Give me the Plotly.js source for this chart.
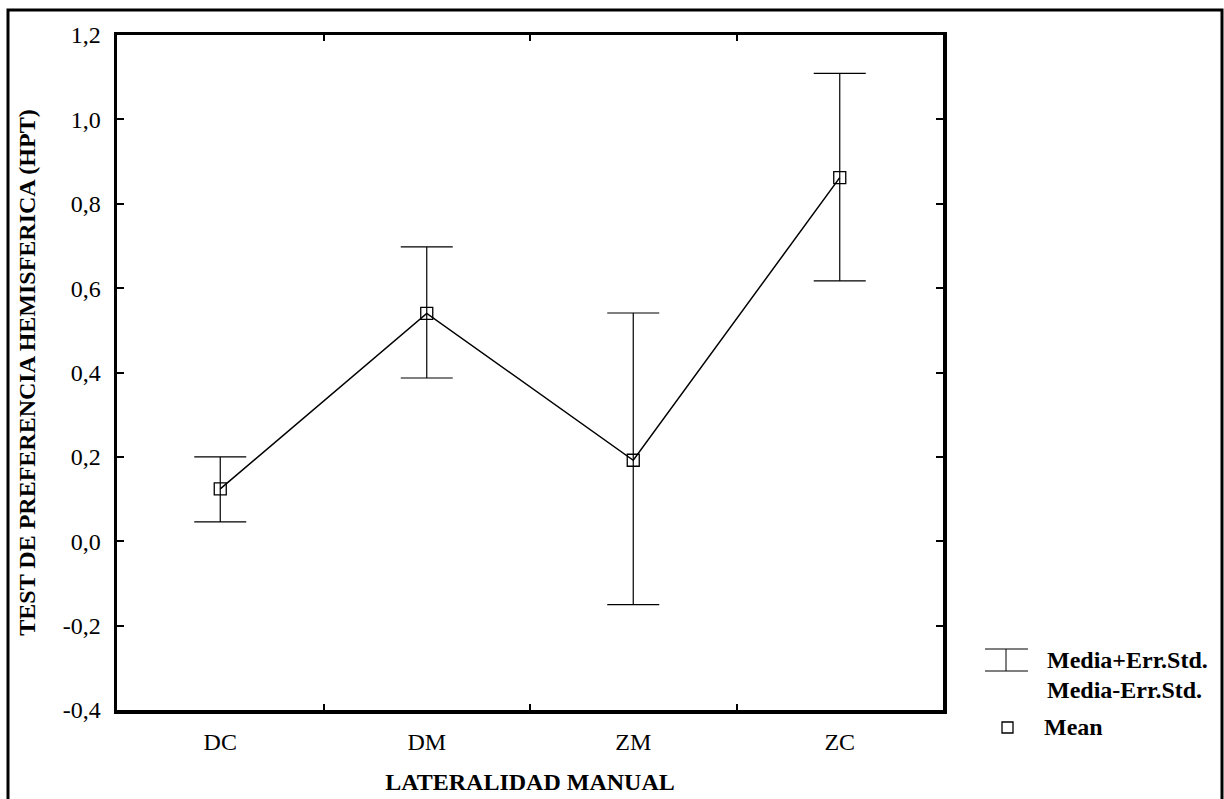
<!DOCTYPE html>
<html>
<head>
<meta charset="utf-8">
<script src="https://cdn.plot.ly/plotly-3.0.1.min.js"></script>
<style>html,body{margin:0;padding:0;background:#fff;}#chart{width:1224px;height:799px;}</style>
</head>
<body>
<div id="chart"></div>
<script>
// ---- data ----
var categories = ['DC', 'DM', 'ZM', 'ZC'];
var means      = [0.124, 0.540, 0.192, 0.862];
var upperVals  = [0.200, 0.698, 0.541, 1.109];   // Media+Err.Std.
var lowerVals  = [0.046, 0.387, -0.150, 0.617];  // Media-Err.Std.
var yTickVals  = [-0.4, -0.2, 0.0, 0.2, 0.4, 0.6, 0.8, 1.0, 1.2];
var yTickText  = ['-0,4', '-0,2', '0,0', '0,2', '0,4', '0,6', '0,8', '1,0', '1,2'];
var legendLabels = ['Media+Err.Std.', 'Media-Err.Std.', 'Mean'];
var xTitle = 'LATERALIDAD MANUAL';
var yTitle = 'TEST DE PREFERENCIA HEMISFERICA (HPT)';

// ---- layout geometry ----
var W = 1224, H = 799;
var M = {l: 117, r: 281, t: 35, b: 89};
var pw = W - M.l - M.r, ph = H - M.t - M.b;
function px(x) { return (x - M.l) / pw; }
function py(y) { return (H - M.b - y) / ph; }

var plus = means.map(function (m, i) { return upperVals[i] - m; });
var minus = means.map(function (m, i) { return m - lowerVals[i]; });

var serif = 'Liberation Serif, Times New Roman, serif';

var trace = {
  x: categories,
  y: means,
  type: 'scatter',
  mode: 'lines+markers',
  line: {color: '#000', width: 1.5},
  marker: {symbol: 'square-open', size: 12, color: '#000', line: {width: 1.3, color: '#000'}},
  error_y: {type: 'data', symmetric: false, array: plus, arrayminus: minus,
            color: '#000', thickness: 1.2, width: 26},
  showlegend: false,
  hoverinfo: 'x+y'
};

var shapes = [
  // outer frame (left, top, right)
  {type: 'path', xref: 'paper', yref: 'paper',
   path: 'M ' + px(8) + ' ' + py(820) + ' L ' + px(8) + ' ' + py(10) + ' L ' + px(1222) + ' ' + py(10) + ' L ' + px(1222) + ' ' + py(820),
   line: {color: '#000', width: 3}},
  // legend error-bar glyph
  {type: 'line', xref: 'paper', yref: 'paper', x0: px(985), x1: px(1028), y0: py(649), y1: py(649), line: {color: '#000', width: 1}},
  {type: 'line', xref: 'paper', yref: 'paper', x0: px(985), x1: px(1028), y0: py(671), y1: py(671), line: {color: '#000', width: 1}},
  {type: 'line', xref: 'paper', yref: 'paper', x0: px(1006), x1: px(1006), y0: py(649), y1: py(671), line: {color: '#000', width: 1}},
  // legend mean square
  {type: 'rect', xref: 'paper', yref: 'paper', x0: px(1002), x1: px(1013), y0: py(722), y1: py(733), line: {color: '#000', width: 1.3}}
];

var legFont = {family: serif, size: 24, color: '#000'};
var annotations = [
  {xref: 'paper', yref: 'paper', x: px(1045), y: py(660), xanchor: 'left', yanchor: 'middle', showarrow: false,
   text: '<b>' + legendLabels[0] + '</b>', font: legFont},
  {xref: 'paper', yref: 'paper', x: px(1045), y: py(690), xanchor: 'left', yanchor: 'middle', showarrow: false,
   text: '<b>' + legendLabels[1] + '</b>', font: legFont},
  {xref: 'paper', yref: 'paper', x: px(1042), y: py(727), xanchor: 'left', yanchor: 'middle', showarrow: false,
   text: '<b>' + legendLabels[2] + '</b>', font: legFont}
];

var layout = {
  width: W, height: H,
  margin: M,
  paper_bgcolor: '#fff', plot_bgcolor: '#fff',
  font: {family: serif, color: '#000', size: 24},
  xaxis: {
    type: 'category', range: [-0.5, 3.5],
    showline: true, linewidth: 3.5, linecolor: '#000', mirror: 'ticks',
    ticks: 'inside', ticklen: 6, tickwidth: 2, tickcolor: '#000', tickson: 'boundaries',
    showgrid: false, zeroline: false,
    tickfont: {family: serif, size: 24, color: '#000'},
    ticklabelstandoff: 8,
    title: {text: '<b>' + xTitle + '</b>', font: {family: serif, size: 24, color: '#000'}, standoff: 20},
    fixedrange: true
  },
  yaxis: {
    range: [-0.4, 1.2], tickvals: yTickVals, ticktext: yTickText,
    showline: true, linewidth: 3.5, linecolor: '#000', mirror: 'ticks',
    ticks: 'inside', ticklen: 7, tickwidth: 2, tickcolor: '#000',
    showgrid: false, zeroline: false,
    tickfont: {family: serif, size: 24, color: '#000'},
    ticklabelstandoff: 8,
    title: {text: '<b>' + yTitle + '</b>', font: {family: serif, size: 24, color: '#000'}, standoff: 21},
    fixedrange: true
  },
  shapes: shapes,
  annotations: annotations,
  showlegend: false
};

Plotly.newPlot('chart', [trace], layout, {displayModeBar: false, staticPlot: true});
</script>
</body>
</html>
